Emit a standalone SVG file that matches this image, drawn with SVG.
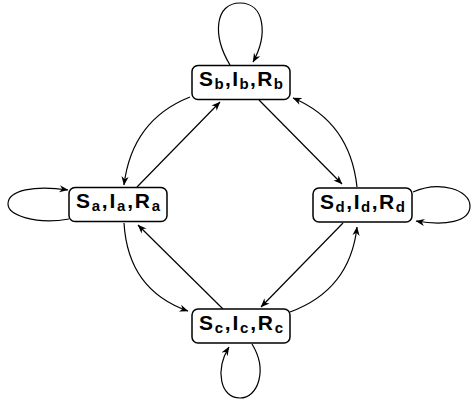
<svg xmlns="http://www.w3.org/2000/svg" width="473" height="401" viewBox="0 0 473 401">
<style>
.box{fill:#fff;stroke:#000;stroke-width:1.5}
.t{font-family:"Liberation Sans",Arial,sans-serif;font-weight:bold;font-size:21px;fill:#000;text-anchor:middle}
.s{font-size:15px}
.e{fill:none;stroke:#000;stroke-width:1.2;marker-end:url(#ah)}
</style>
<defs>
<marker id="ah" markerUnits="userSpaceOnUse" viewBox="0 0 10 10" markerWidth="9" markerHeight="9" refX="9.5" refY="5" orient="auto">
<path d="M0,1 L10,5 L0,9 L3,5 z" fill="#000"/>
</marker>
</defs>
<g id="edges">
<path class="e" d="M230,65 C212,35 215,3 240,3 C265,3 268,35 253,62"/>
<path class="e" d="M69,219 C35,225 8,215 8,204 C8,190 35,185 68,190"/>
<path class="e" d="M413,192 C440,180 470,190 470,206 C470,222 445,226 416,221"/>
<path class="e" d="M252,344 C268,370 258,398 240,398 C220,398 215,370 229,347"/>
<path class="e" d="M190,97 Q132,120 124,185"/>
<path class="e" d="M137,187 L220,102"/>
<path class="e" d="M259,100 L342,184"/>
<path class="e" d="M357,187 Q350,122 293,98"/>
<path class="e" d="M124,223 Q128,290 188,311"/>
<path class="e" d="M223,309 L138,225"/>
<path class="e" d="M343,223 L261,307"/>
<path class="e" d="M290,312 Q350,290 357,227"/>
</g>
<g id="node-b">
<rect class="box" x="192" y="65.5" width="98" height="34" rx="6"/>
<text class="t" x="241" y="86" textLength="84" lengthAdjust="spacing">S<tspan class="s" dy="3">b</tspan><tspan dy="-3">,I</tspan><tspan class="s" dy="3">b</tspan><tspan dy="-3">,R</tspan><tspan class="s" dy="3">b</tspan></text>
</g>
<g id="node-a">
<rect class="box" x="69" y="187.5" width="98" height="34" rx="6"/>
<text class="t" x="118" y="208" textLength="84" lengthAdjust="spacing">S<tspan class="s" dy="3">a</tspan><tspan dy="-3">,I</tspan><tspan class="s" dy="3">a</tspan><tspan dy="-3">,R</tspan><tspan class="s" dy="3">a</tspan></text>
</g>
<g id="node-d">
<rect class="box" x="313" y="188" width="99" height="34" rx="6"/>
<text class="t" x="362.5" y="208.5" textLength="85" lengthAdjust="spacing">S<tspan class="s" dy="3">d</tspan><tspan dy="-3">,I</tspan><tspan class="s" dy="3">d</tspan><tspan dy="-3">,R</tspan><tspan class="s" dy="3">d</tspan></text>
</g>
<g id="node-c">
<rect class="box" x="192" y="309" width="98" height="34" rx="6"/>
<text class="t" x="241" y="329.5" textLength="84" lengthAdjust="spacing">S<tspan class="s" dy="3">c</tspan><tspan dy="-3">,I</tspan><tspan class="s" dy="3">c</tspan><tspan dy="-3">,R</tspan><tspan class="s" dy="3">c</tspan></text>
</g>
</svg>
